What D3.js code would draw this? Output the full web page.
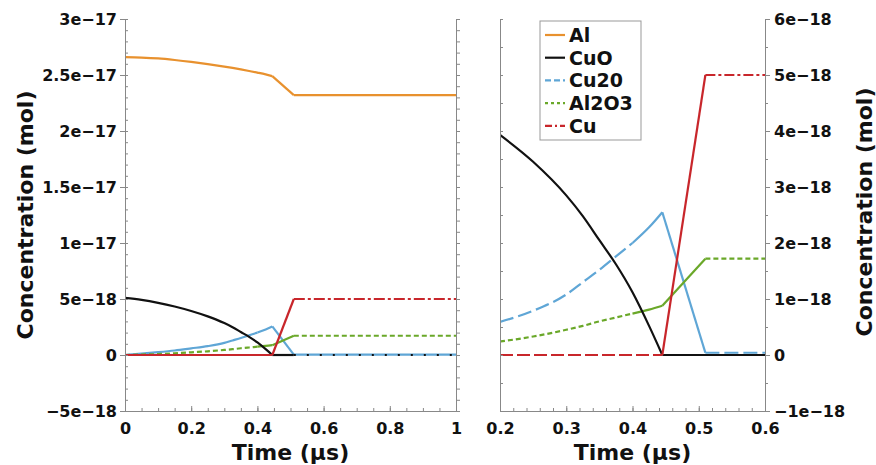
<!DOCTYPE html>
<html>
<head>
<meta charset="utf-8">
<script src="https://cdn.jsdelivr.net/npm/d3@7"></script>
<style>
    body { margin: 0; background: #fff; }
    text { font-family: "DejaVu Sans", sans-serif; font-weight: bold; fill: #111; }
</style>
</head>
<body>
<div id="chart"></div>
<script>
//time points (µs)
let time  = [0, 0.05, 0.1, 0.15, 0.2, 0.25, 0.3, 0.325, 0.35, 0.375, 0.4, 0.425, 0.445, 0.51, 0.6, 0.8, 1.0]

//concentrations (mol)
let al    = [2.66e-17, 2.656e-17, 2.648e-17, 2.634e-17, 2.617e-17, 2.597e-17, 2.575e-17, 2.563e-17, 2.55e-17, 2.536e-17, 2.521e-17, 2.505e-17, 2.49e-17, 2.32e-17, 2.32e-17, 2.32e-17, 2.32e-17]
let cuo   = [5.10e-18, 4.92e-18, 4.66e-18, 4.33e-18, 3.93e-18, 3.45e-18, 2.85e-18, 2.48e-18, 2.05e-18, 1.62e-18, 1.12e-18, 0.52e-18, 0, 0, 0, 0, 0]
let cu2o  = [0, 0.12e-18, 0.25e-18, 0.40e-18, 0.59e-18, 0.79e-18, 1.08e-18, 1.30e-18, 1.52e-18, 1.76e-18, 2.0e-18, 2.28e-18, 2.55e-18, 0.04e-18, 0.04e-18, 0.04e-18, 0.04e-18]
let al2o3 = [0, 0.04e-18, 0.08e-18, 0.15e-18, 0.24e-18, 0.33e-18, 0.45e-18, 0.52e-18, 0.60e-18, 0.67e-18, 0.74e-18, 0.81e-18, 0.88e-18, 1.72e-18, 1.72e-18, 1.72e-18, 1.72e-18]
let cu    = [0, 0, 0, 0, 0, 0, 0, 0, 0, 0, 0, 0, 0, 5.0e-18, 5.0e-18, 5.0e-18, 5.0e-18]

let names = ['Al', 'CuO', 'Cu20', 'Al2O3', 'Cu']

//tick values & labels
let leftXTicks   = [0, 0.2, 0.4, 0.6, 0.8, 1]
let leftXLabels  = ['0', '0.2', '0.4', '0.6', '0.8', '1']
let rightXTicks  = [0.2, 0.3, 0.4, 0.5, 0.6]
let rightXLabels = ['0.2', '0.3', '0.4', '0.5', '0.6']
let leftYTicks   = [-5e-18, 0, 5e-18, 1e-17, 1.5e-17, 2e-17, 2.5e-17, 3e-17]
let leftYLabels  = ['\u22125e\u221218', '0', '5e\u221218', '1e\u221217', '1.5e\u221217', '2e\u221217', '2.5e\u221217', '3e\u221217']
let rightYTicks  = [-1e-18, 0, 1e-18, 2e-18, 3e-18, 4e-18, 5e-18, 6e-18]
let rightYLabels = ['\u22121e\u221218', '0', '1e\u221218', '2e\u221218', '3e\u221218', '4e\u221218', '5e\u221218', '6e\u221218']

let colors = {Al: '#e8912e', CuO: '#111111', Cu20: '#5fa6d6', Al2O3: '#6aa829', Cu: '#c8262b'}

let svgWidth = 876
let svgHeight = 465
let top_ = 19, bottom_ = 411

let svg = d3.select('#chart')
    .append('svg')
    .attr('width', svgWidth)
    .attr('height', svgHeight)

let series = [
    {name: 'Al', values: al},
    {name: 'Cu20', values: cu2o},
    {name: 'Al2O3', values: al2o3},
    {name: 'CuO', values: cuo},
    {name: 'Cu', values: cu}
]

//line style pieces per panel: [from, to, dasharray]
//pieces also break at the kinks (0.445, 0.51) so the smoothing keeps them sharp
let leftStyles = {
    'Al':    [[0, 0.445, null], [0.445, 0.51, null], [0.51, 1, null]],
    'Cu20':  [[0, 0.4, null], [0.4, 0.445, null], [0.445, 0.51, null], [0.51, 1, null]],
    'Al2O3': [[0, 0.4, '5,3'], [0.4, 0.445, null], [0.445, 0.51, null], [0.51, 1, '5,3']],
    'CuO':   [[0, 0.445, null], [0.445, 0.51, null], [0.51, 1, '2,11']],
    'Cu':    [[0, 0.445, null], [0.445, 0.51, null], [0.51, 1, '11,3,3,3']]
}
let rightStyles = {
    'Al':    [[0.2, 0.445, null], [0.445, 0.51, null], [0.51, 0.6, null]],
    'Cu20':  [[0.2, 0.4, '14,5'], [0.4, 0.445, null], [0.445, 0.51, null], [0.51, 0.6, '14,5']],
    'Al2O3': [[0.2, 0.4, '5,3'], [0.4, 0.445, null], [0.445, 0.51, null], [0.51, 0.6, '5,3']],
    'CuO':   [[0.2, 0.445, null], [0.445, 0.6, null]],
    'Cu':    [[0.2, 0.445, '13,4'], [0.445, 0.51, null], [0.51, 0.6, '10,3,3,3']]
}

function drawPanel(id, xScale, yScale, styles) {
    svg.append('clipPath')
        .attr('id', 'clip' + id)
        .append('rect')
        .attr('x', xScale.range()[0])
        .attr('y', top_)
        .attr('width', xScale.range()[1] - xScale.range()[0])
        .attr('height', bottom_ - top_)

    let g = svg.append('g').attr('clip-path', 'url(#clip' + id + ')')

    let line = d3.line()
        .x(d => xScale(d.t))
        .y(d => yScale(d.v))
        .curve(d3.curveMonotoneX)

    series.forEach(s => {
        let pts = time.map((t, i) => ({t: t, v: s.values[i]}))
        styles[s.name].forEach(st => {
            let part = pts.filter(d => d.t >= st[0] - 1e-9 && d.t <= st[1] + 1e-9)
            // keep one point outside so the curve reaches the panel edge
            let after = pts.find(d => d.t > st[1] + 1e-9)
            if (after && st[1] >= xScale.domain()[1]) part.push(after)
            g.append('path')
                .attr('d', line(part))
                .attr('fill', 'none')
                .attr('stroke', colors[s.name])
                .attr('stroke-width', 2.2)
                .attr('stroke-dasharray', st[2])
        })
    })
}

function styleAxis(sel, size) {
    sel.selectAll('path').attr('stroke', '#888')
    sel.selectAll('line').attr('stroke', '#888')
    sel.selectAll('text').attr('font-size', size).attr('fill', '#111')
        .attr('font-family', '"DejaVu Sans", sans-serif').attr('font-weight', 'bold')
}

// left panel
let xL = d3.scaleLinear().domain([0, 1]).range([125, 456])
let yL = d3.scaleLinear().domain([-5e-18, 3e-17]).range([bottom_, top_])

drawPanel('L', xL, yL, leftStyles)

let leftMinor = d3.range(-5, 31).map(d => d * 1e-18)

svg.append('g')
    .attr('transform', 'translate(125,0)')
    .call(d3.axisLeft(yL).tickValues(leftYTicks).tickFormat((d, i) => leftYLabels[i]).tickSize(5).tickSizeOuter(0).tickPadding(3))
    .call(styleAxis, 16)
svg.append('g')
    .attr('transform', 'translate(125,0)')
    .call(d3.axisRight(yL).tickValues(leftMinor).tickFormat('').tickSize(3).tickSizeOuter(0))
    .call(g => g.select('.domain').remove())
    .call(styleAxis, 16)
svg.append('g')
    .attr('transform', 'translate(456,0)')
    .call(d3.axisRight(yL).tickValues(leftMinor).tickFormat('').tickSize(4).tickSizeOuter(0))
    .call(styleAxis, 16)
svg.append('g')
    .attr('transform', 'translate(0,' + bottom_ + ')')
    .call(d3.axisBottom(xL).tickValues(d3.range(0, 21).map(d => d * 0.05)).tickFormat('').tickSize(-3).tickSizeOuter(0))
    .call(styleAxis, 16)
svg.append('g')
    .attr('transform', 'translate(0,' + bottom_ + ')')
    .call(d3.axisBottom(xL).tickValues(leftXTicks).tickFormat((d, i) => leftXLabels[i]).tickSize(-5).tickSizeOuter(0).tickPadding(12))
    .call(styleAxis, 16)

// right panel
let xR = d3.scaleLinear().domain([0.2, 0.6]).range([500, 765])
let yR = d3.scaleLinear().domain([-1e-18, 6e-18]).range([bottom_, top_])

drawPanel('R', xR, yR, rightStyles)

let rightMinor = d3.range(-2, 13).map(d => d * 0.5e-18)

svg.append('g')
    .attr('transform', 'translate(500,0)')
    .call(d3.axisRight(yR).tickValues(rightMinor).tickFormat('').tickSize(3).tickSizeOuter(0))
    .call(styleAxis, 16)
svg.append('g')
    .attr('transform', 'translate(765,0)')
    .call(d3.axisRight(yR).tickValues(rightMinor).tickFormat('').tickSize(3).tickSizeOuter(0))
    .call(styleAxis, 16)
svg.append('g')
    .attr('transform', 'translate(765,0)')
    .call(d3.axisRight(yR).tickValues(rightYTicks).tickFormat((d, i) => rightYLabels[i]).tickSize(5).tickSizeOuter(0).tickPadding(4))
    .call(styleAxis, 16)
svg.append('g')
    .attr('transform', 'translate(0,' + bottom_ + ')')
    .call(d3.axisBottom(xR).tickValues(d3.range(10, 31).map(d => d * 0.02)).tickFormat('').tickSize(-3).tickSizeOuter(0))
    .call(styleAxis, 16)
svg.append('g')
    .attr('transform', 'translate(0,' + bottom_ + ')')
    .call(d3.axisBottom(xR).tickValues(rightXTicks).tickFormat((d, i) => rightXLabels[i]).tickSize(-5).tickSizeOuter(0).tickPadding(12))
    .call(styleAxis, 16)

// axis titles
svg.append('text')
    .attr('x', 290.5).attr('y', 460)
    .attr('text-anchor', 'middle').attr('font-size', 22)
    .text('Time (\u00b5s)')
svg.append('text')
    .attr('x', 632.5).attr('y', 460)
    .attr('text-anchor', 'middle').attr('font-size', 22)
    .text('Time (\u00b5s)')
svg.append('text')
    .attr('transform', 'translate(33,215) rotate(-90)')
    .attr('text-anchor', 'middle').attr('font-size', 22)
    .text('Concentration (mol)')
svg.append('text')
    .attr('transform', 'translate(872,212) rotate(-90)')
    .attr('text-anchor', 'middle').attr('font-size', 22)
    .text('Concentration (mol)')

// legend
let legendDash = {Al: null, CuO: null, Cu20: '6,3', Al2O3: '3,3', Cu: '7,3,2,3'}
let legend = svg.append('g').attr('transform', 'translate(540,21)')
legend.append('rect')
    .attr('width', 101).attr('height', 119)
    .attr('fill', '#fff').attr('stroke', '#999').attr('stroke-width', 1)
names.forEach((n, i) => {
    let y = 14 + i * 22.7
    legend.append('line')
        .attr('x1', 5).attr('x2', 25).attr('y1', y).attr('y2', y)
        .attr('stroke', colors[n]).attr('stroke-width', 2.2)
        .attr('stroke-dasharray', legendDash[n])
    legend.append('text')
        .attr('x', 29).attr('y', y + 7)
        .attr('font-size', 19)
        .text(n)
})
</script>
</body>
</html>
